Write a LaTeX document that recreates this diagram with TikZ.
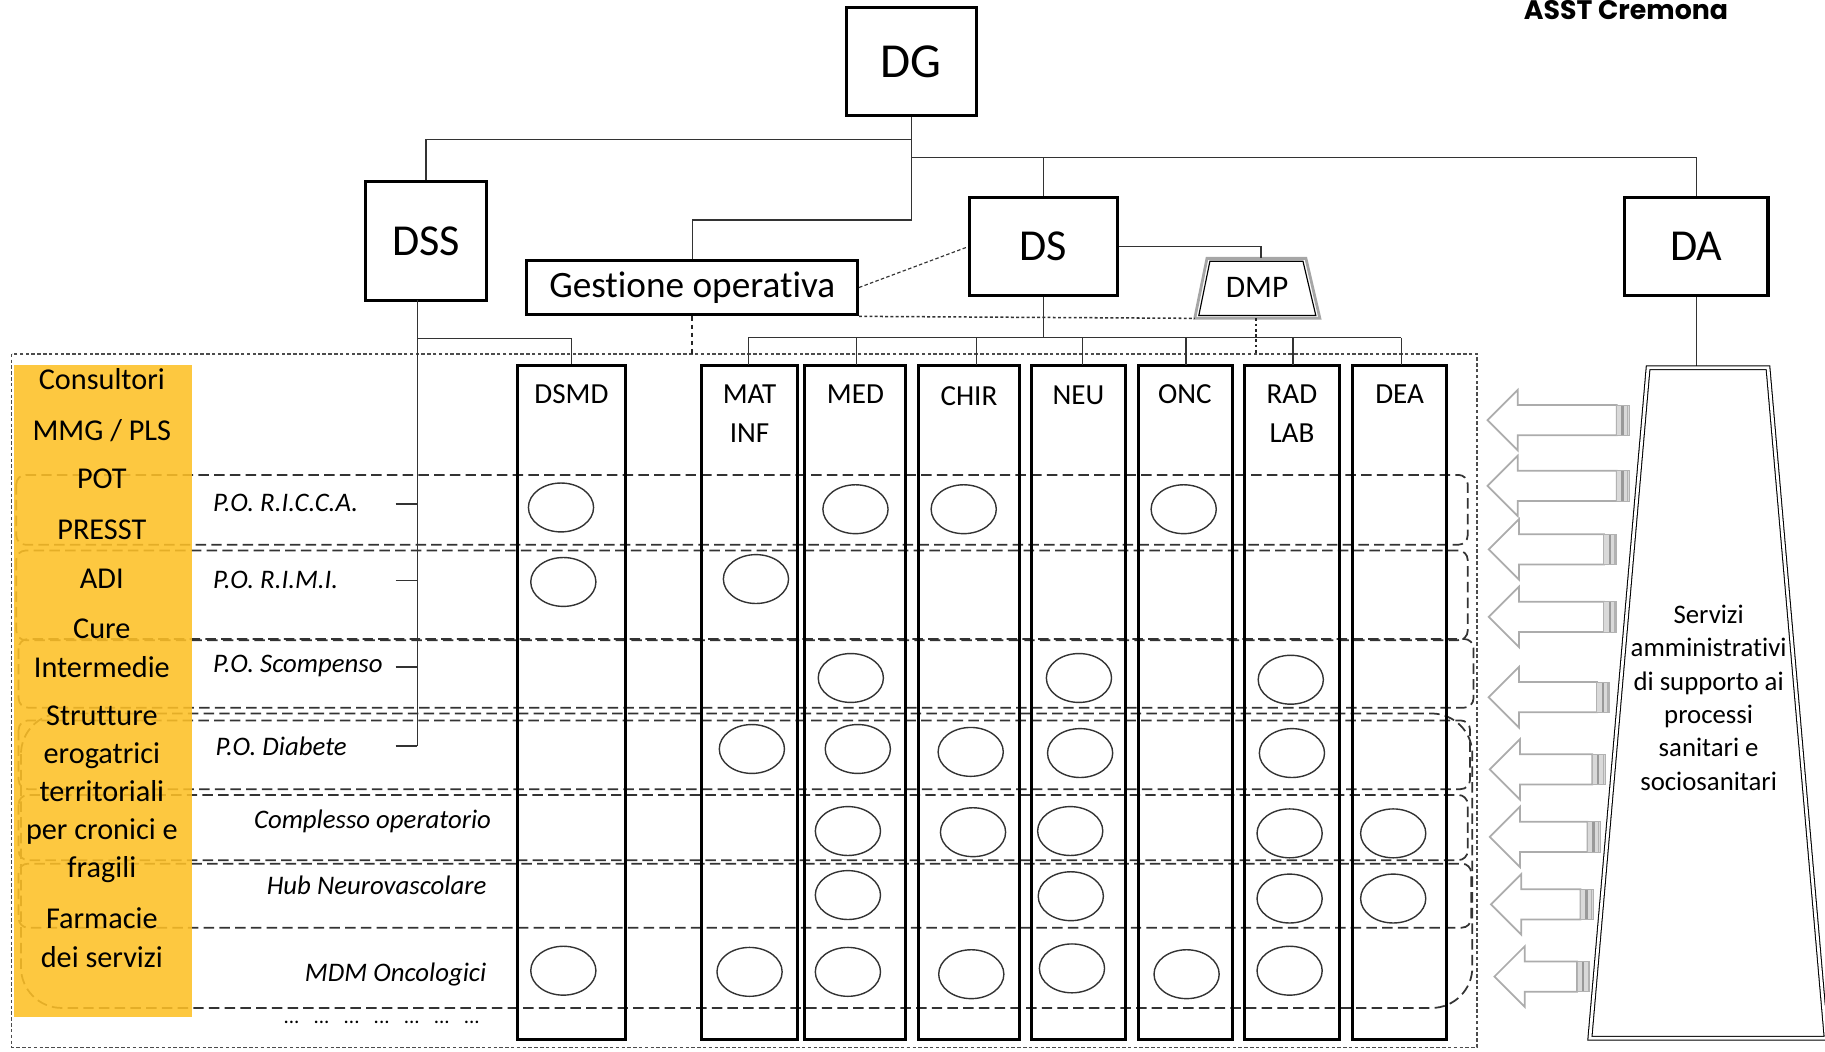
\documentclass[tikz,border=0pt]{standalone}
\usepackage{fontspec}
\setmainfont{Carlito}[Ligatures=NoCommon]
\newfontfamily\titlefont{Poppins}
\usetikzlibrary{calc}
\definecolor{gold}{RGB}{253,192,38}

% hollow grey block arrow: #1 centre y, #2 tail x, #3 tip x
\newcommand\supportarrow[3]{%
  \draw[arrowline] (#3,#1) -- (#3+26,#1-26) -- (#3+26,#1-13) -- (#2-11,#1-13)
     -- (#2-11,#1+13) -- (#3+26,#1+13) -- (#3+26,#1+26) -- cycle;
  \fill[gray!30] (#2-11,#1-13) rectangle (#2,#1+13);
  \draw[gray!80, line width=2pt] (#2-6,#1-13) -- (#2-6,#1+13);
  \draw[gray!60, line width=1pt] (#2-1.5,#1-13) -- (#2-1.5,#1+13);
  \draw[gray!60, line width=0.8pt] (#2-11,#1-13) rectangle (#2,#1+13);
}

\begin{document}
\begin{tikzpicture}[x=1pt,y=-1pt,
  unit/.style={draw=black, line width=2.6pt, inner sep=0pt, fill=white},
  conn/.style={draw=black!80, line width=1.2pt},
  col/.style={draw=black, line width=2.6pt, inner sep=0pt},
  collabel/.style={font=\fontsize{25}{33}\selectfont, align=center, inner sep=0pt},
  rowlabel/.style={font=\fontsize{23}{26}\selectfont\itshape, inner sep=0pt},
  sidelabel/.style={font=\fontsize{26}{30}\selectfont, inner sep=0pt, text=black},
  rowband/.style={draw=black!80, line width=1.5pt, dash pattern=on 9pt off 4.5pt, rounded corners=8pt},
  hit/.style={draw=black!80, line width=1.2pt},
  arrowline/.style={draw=gray!65, line width=1.5pt, fill=white, line join=miter},
]
\useasboundingbox (0,0) rectangle (1568,903);

% ---------- title ----------
\node[font=\titlefont\bfseries\fontsize{23}{28}\selectfont, anchor=base, inner sep=0pt] (title) at (1397,17) {ASST Cremona};

% ---------- directorate boxes ----------
\node[unit, minimum width=112pt, minimum height=93pt, font=\fontsize{42}{46}\selectfont] (dg) at (783,53) {DG};
\node[unit, minimum width=104pt, minimum height=102pt, font=\fontsize{38}{42}\selectfont] (dss) at (366,207) {DSS};
\node[unit, minimum width=127pt, minimum height=84pt, font=\fontsize{38}{42}\selectfont] (ds) at (896.5,212) {DS};
\node[unit, minimum width=123pt, minimum height=84pt, font=\fontsize{38}{42}\selectfont] (da) at (1457.5,212) {DA};
\node[unit, minimum width=284pt, minimum height=47pt, font=\fontsize{32}{35}\selectfont] (gest) at (594.75,247) {Gestione operativa};

% DMP trapezium (grey outer edge, black inner edge)
\coordinate (dmptl) at (1037,222);
\coordinate (dmptr) at (1122,222);
\coordinate (dmpbr) at (1134,273.5);
\coordinate (dmpbl) at (1026.5,273.5);
\draw[gray!70, line width=2.4pt, fill=white] (dmptl) -- (dmptr) -- (dmpbr) -- (dmpbl) -- cycle;
\draw[black, line width=1pt] (1039.5,224.5) -- (1119.5,224.5) -- (1130.5,271) -- (1030,271) -- cycle;
\node[font=\fontsize{27}{30}\selectfont, inner sep=0pt] (dmp) at (1080,247) {DMP};
\coordinate (dmptop) at (1083.5,222);
\coordinate (dmpbot) at (1079,273.5);

% ---------- top-level connectors ----------
\coordinate (jdss) at (783,120);
\coordinate (jgest) at (783,189);
\coordinate (jright) at (783,135.5);
\draw[conn] (dg.south) -- (jgest) -| (gest.north);
\draw[conn] (jdss) -| (dss.north);
\draw[conn] (jright) -| (ds.north);
\draw[conn] (jright) -| (da.north);
\draw[conn] (ds.east) -| (dmptop);
\draw[black!80, line width=1pt, dash pattern=on 3pt off 2pt] (gest.east) -- (ds.west);
\draw[black!80, line width=1.3pt, dash pattern=on 2.5pt off 2pt] (gest.south east) -- (dmpbl);

% ---------- outer dotted frame ----------
\coordinate (frametl) at (10,304);
\coordinate (framebr) at (1269,900);
\draw[black!70, line width=1.2pt, dash pattern=on 3pt off 2pt] (frametl) rectangle (framebr);
\draw[black!85, line width=1.6pt, dash pattern=on 4pt off 3pt] (gest.south) -- (594.75,304);
\draw[black!85, line width=1.6pt, dash pattern=on 2.5pt off 2pt] (dmpbot) -- (1079,304);

% ---------- process bands ----------
\draw[rowband] (14,408) rectangle (1261,468);
\draw[rowband] (14,473) rectangle (1261,550);
\draw[rowband] (16,549) rectangle (1266,608);
\draw[rowband, rounded corners=35pt] (18,613) rectangle (1265,866);
\draw[rowband] (16,619) rectangle (1263,678);
\draw[rowband] (16,683) rectangle (1261,739);
\draw[rowband] (16,742) rectangle (1264,797);

% ---------- territorial services column ----------
\node[fill=gold, fill opacity=0.88, minimum width=153pt, minimum height=560pt, inner sep=0pt] (terr) at (88.5,594) {};
\node[sidelabel] (s1) at (87.5,326) {Consultori};
\node[sidelabel] (s2) at (87.5,370) {MMG / PLS};
\node[sidelabel] (s3) at (87.5,411) {POT};
\node[sidelabel] (s4) at (87.5,455) {PRESST};
\node[sidelabel] (s5) at (87.5,497) {ADI};
\node[sidelabel] (s6) at (87.5,540) {Cure};
\node[sidelabel] (s7) at (87.5,573) {Intermedie};
\node[sidelabel] (s8) at (87.5,615) {Strutture};
\node[sidelabel] (s9) at (87.5,649) {erogatrici};
\node[sidelabel] (s10) at (87.5,680) {territoriali};
\node[sidelabel] (s11) at (87.5,714) {per cronici e};
\node[sidelabel] (s12) at (87.5,747) {fragili};
\node[sidelabel] (s13) at (87.5,789) {Farmacie};
\node[sidelabel] (s14) at (87.5,822) {dei servizi};

% ---------- department columns ----------
\node[col, minimum width=92pt, minimum height=579pt] (dsmd) at (491,603.5) {};
\node[col, minimum width=82pt, minimum height=579pt] (mat) at (644,603.5) {};
\node[col, minimum width=87pt, minimum height=579pt] (med) at (734.5,603.5) {};
\node[col, minimum width=87pt, minimum height=579pt] (chir) at (832.5,603.5) {};
\node[col, minimum width=81pt, minimum height=579pt] (neu) at (926.5,603.5) {};
\node[col, minimum width=81pt, minimum height=579pt] (onc) at (1018.5,603.5) {};
\node[col, minimum width=82pt, minimum height=579pt] (rad) at (1110,603.5) {};
\node[col, minimum width=81pt, minimum height=579pt] (dea) at (1202.5,603.5) {};

\node[collabel] (ldsmd) at (491,339) {DSMD};
\node[collabel] (lmat) at (644,355.5) {MAT\\INF};
\node[collabel] (lmed) at (735,339) {MED};
\node[collabel] (lchir) at (832.5,340) {CHIR};
\node[collabel] (lneu) at (926.5,340) {NEU};
\node[collabel] (lonc) at (1018,339) {ONC};
\node[collabel] (lrad) at (1110,355.5) {RAD\\LAB};
\node[collabel] (ldea) at (1202.5,339) {DEA};

% ---------- DS bus to the departments ----------
\coordinate (busl) at (643,290);
\coordinate (busr) at (1204,290);
\draw[conn] (ds.south) -- (ds.south |- busl);
\draw[conn] (busl) -- (busr);
\foreach \x in {643,736,839,930,1019,1111,1204}
  \draw[conn] (\x,290) -- (\x,314);

% ---------- DSS line to the pathways ----------
\coordinate (dssout) at (358.6,257.5);
\coordinate (dssend) at (358.6,641);
\draw[conn] (dssout) -- (dssend);
\draw[conn] (358.6,290.6) -| (dsmd.north);

% ---------- pathway labels ----------
\node[rowlabel, anchor=west] (p1) at (183,432) {P.O. R.I.C.C.A.};
\node[rowlabel, anchor=west] (p2) at (183,498) {P.O. R.I.M.I.};
\node[rowlabel, anchor=west] (p3) at (183,572) {P.O. Scompenso};
\node[rowlabel, anchor=west] (p4) at (185,641) {P.O. Diabete};
\node[rowlabel, anchor=east] (p5) at (422,706) {Complesso operatorio};
\node[rowlabel, anchor=east] (p6) at (418,761) {Hub Neurovascolare};
\node[rowlabel, anchor=east] (p7) at (418,837) {MDM Oncologici};
\node[font=\fontsize{18}{20}\selectfont, inner sep=0pt] (p8) at (328,878) {...\ \ \ ...\ \ \ ...\ \ \ ...\ \ \ ...\ \ \ ...\ \ \ ...};
\foreach \yy in {433,499,573,641}
  \draw[conn] (340,\yy) -- (358.6,\yy);

% ---------- participation marks ----------
\foreach \x/\y in {482/436, 735/437.5, 828/437.5, 1017/437.5,
                   484/500, 649.5/497.5,
                   731/582.5, 927/582.5, 1109/584,
                   646/643.5, 737/643.5, 834/646, 928/647, 1110/647,
                   728.5/714, 836/715, 919.5/714, 1108/716, 1197/716,
                   728.5/769, 920/770, 1108/772, 1197/772,
                   484/834, 644/835, 728.5/835, 834.5/837, 921/832, 1019.5/837, 1108/834}
  \draw[hit] (\x,\y) ellipse [x radius=28pt, y radius=21pt];

% ---------- administrative support services ----------
\coordinate (servtop) at (1457.5,316);
\draw[conn] (da.south) -- (servtop);
\draw[draw=black, line width=0.9pt, double=white, double distance=2.4pt, line join=miter]
  (1416,316) -- (1519,316) -- (1569,892) -- (1366,892) -- cycle;
\node[font=\fontsize{23}{28.6}\selectfont, align=center, inner sep=0pt] (serv) at (1468,599.5)
  {Servizi\\amministrativi\\di supporto ai\\processi\\sanitari e\\sociosanitari};

\supportarrow{361}{1400}{1278}
\supportarrow{417.5}{1400}{1278}
\supportarrow{472}{1389}{1279}
\supportarrow{530}{1389}{1279}
\supportarrow{599}{1383}{1279}
\supportarrow{661}{1379}{1280}
\supportarrow{719}{1375}{1280}
\supportarrow{777}{1369}{1281}
\supportarrow{839}{1366}{1284}
\end{tikzpicture}
\end{document}
